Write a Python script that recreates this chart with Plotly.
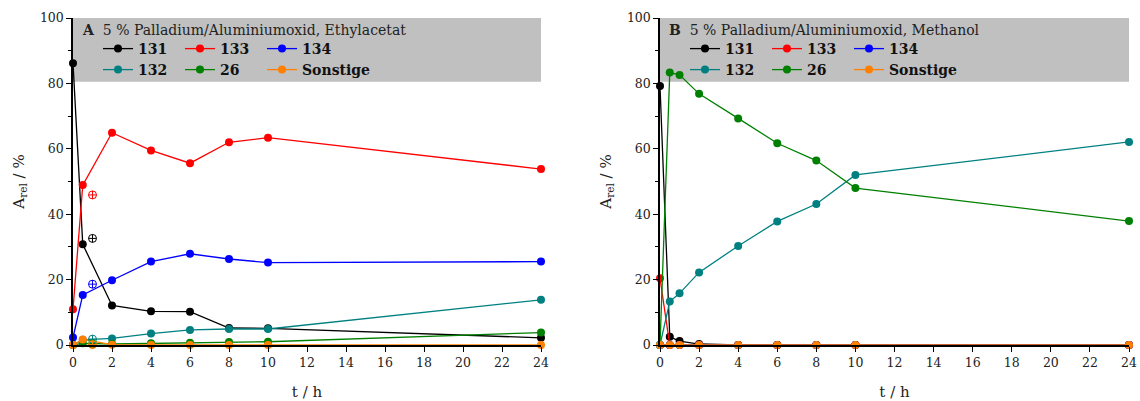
import plotly.graph_objects as go

# sampling times (h)
t = [0, 0.5, 2, 4, 6, 8, 10, 24]
t_b = [0, 0.5, 1, 2, 4, 6, 8, 10, 24]
t_excl = [1]

series_names = ["131", "133", "134", "132", "26", "Sonstige"]
colors = ["#000000", "#ff0000", "#0000ff", "#008080", "#008000", "#ff8000"]

# Panel A: 5 % Pd/Al2O3 in Ethylacetat (relative areas, %)
a_131 = [86.2, 30.8, 12.1, 10.3, 10.2, 5.2, 5.1, 2.2]
a_133 = [10.9, 48.9, 64.9, 59.5, 55.6, 62.0, 63.4, 53.8]
a_134 = [2.3, 15.3, 19.8, 25.5, 27.9, 26.3, 25.2, 25.5]
a_132 = [0.0, 1.6, 2.0, 3.5, 4.6, 4.9, 4.9, 13.8]
a_26 = [0.0, 0.5, 0.3, 0.5, 0.7, 0.9, 1.0, 3.8]
a_son = [0.0, 1.7, 0.1, 0.0, 0.0, 0.0, 0.0, 0.0]
# Panel A: excluded measurement at t = 1 h
a_excl = [32.6, 45.9, 18.6, 1.8, 0.3, 0.1]

# Panel B: 5 % Pd/Al2O3 in Methanol (relative areas, %)
b_131 = [79.2, 2.5, 1.2, 0.3, 0.0, 0.0, 0.0, 0.0, 0.0]
b_133 = [20.4, 0.0, 0.0, 0.0, 0.0, 0.0, 0.0, 0.0, 0.0]
b_134 = [0.0, 0.0, 0.0, 0.0, 0.0, 0.0, 0.0, 0.0, 0.0]
b_132 = [0.0, 13.3, 15.8, 22.2, 30.3, 37.8, 43.1, 52.0, 62.1]
b_26 = [0.0, 83.3, 82.6, 76.8, 69.3, 61.7, 56.4, 48.0, 37.9]
b_son = [0.0, 0.0, 0.0, 0.0, 0.0, 0.0, 0.0, 0.0, 0.0]

panel_a = [a_131, a_133, a_134, a_132, a_26, a_son]
panel_b = [b_131, b_133, b_134, b_132, b_26, b_son]

W, H = 1140, 401
FONT = "DejaVu Serif"

def px_x(p):
    return p / W

def px_y(p):
    return 1 - p / H

fig = go.Figure()

legends_a = ["legend", "legend2"]
legends_b = ["legend3", "legend4"]

def legend_width(name):
    # the last entry of a row gets room for its full label
    return 80 if name == "Sonstige" else None

for i, (name, col) in enumerate(zip(series_names, colors)):
    fig.add_trace(go.Scatter(
        x=t, y=panel_a[i], name=name, mode="lines+markers",
        line=dict(color=col, width=1.3), marker=dict(color=col, size=8),
        xaxis="x", yaxis="y", cliponaxis=False,
        legend=legends_a[i // 3], legendwidth=legend_width(name),
    ))
for i, (name, col) in enumerate(zip(series_names, colors)):
    fig.add_trace(go.Scatter(
        x=t_excl, y=[a_excl[i]], mode="markers", showlegend=False,
        marker=dict(color=col, size=8, symbol="circle-cross-open", line=dict(width=1)),
        xaxis="x", yaxis="y", cliponaxis=False,
    ))
for i, (name, col) in enumerate(zip(series_names, colors)):
    fig.add_trace(go.Scatter(
        x=t_b, y=panel_b[i], name=name, mode="lines+markers",
        line=dict(color=col, width=1.3), marker=dict(color=col, size=8),
        xaxis="x2", yaxis="y2", cliponaxis=False,
        legend=legends_b[i // 3], legendwidth=legend_width(name),
    ))

xdom_a = [px_x(73), px_x(541)]
xdom_b = [px_x(660), px_x(1129)]
ydom = [px_y(345), px_y(18)]

axis_common = dict(
    showgrid=False, zeroline=False, showline=True, linecolor="black", linewidth=1.5,
    ticks="outside", ticklen=5, tickwidth=1.3, tickcolor="black", automargin=False,
    tickfont=dict(family=FONT, size=12.5, color="#222"),
)
xaxis_common = dict(axis_common, range=[0, 24], tick0=0, dtick=2,
                    title=dict(text="t / h", font=dict(family=FONT, size=15, color="#222"), standoff=18))
yaxis_common = dict(axis_common, range=[0, 100], tick0=0, dtick=20,
                    minor=dict(dtick=10, ticks="outside", ticklen=3, tickcolor="black"),
                    title=dict(text="A<sub>rel</sub> / %", font=dict(family=FONT, size=15, color="#222"), standoff=12))

fig.update_layout(
    width=W, height=H,
    margin=dict(l=0, r=0, t=0, b=0),
    paper_bgcolor="white", plot_bgcolor="white",
    xaxis=dict(xaxis_common, domain=xdom_a, anchor="y"),
    yaxis=dict(yaxis_common, domain=ydom, anchor="x"),
    xaxis2=dict(xaxis_common, domain=xdom_b, anchor="y2"),
    yaxis2=dict(yaxis_common, domain=ydom, anchor="x2"),
)

# grey header box inside each panel
for xr, yr in (("x domain", "y"), ("x2 domain", "y2")):
    fig.add_shape(type="rect", xref=xr, yref=yr, x0=0, x1=1, y0=80.5, y1=100,
                  fillcolor="#c0c0c0", line=dict(width=0), layer="below")

titles = [
    ("x domain", "y", "<b>A</b>  5 % Palladium/Aluminiumoxid, Ethylacetat"),
    ("x2 domain", "y2", "<b>B</b>  5 % Palladium/Aluminiumoxid, Methanol"),
]
for xr, yr, txt in titles:
    fig.add_annotation(xref=xr, yref="paper", x=0.015, y=px_y(30), text=txt,
                       showarrow=False, xanchor="left", yanchor="middle",
                       font=dict(family=FONT, size=14, color="#222"))

leg_style = dict(orientation="h", bgcolor="rgba(0,0,0,0)", borderwidth=0,
                 font=dict(family=FONT, size=14, color="#111", weight="bold"),
                 entrywidth=37, entrywidthmode="pixels", itemclick=False,
                 xanchor="left", yanchor="middle", tracegroupgap=0)
fig.update_layout(
    legend=dict(leg_style, x=px_x(98), y=px_y(49)),
    legend2=dict(leg_style, x=px_x(98), y=px_y(70)),
    legend3=dict(leg_style, x=px_x(685), y=px_y(49)),
    legend4=dict(leg_style, x=px_x(685), y=px_y(70)),
)

fig.write_html("out.html")
